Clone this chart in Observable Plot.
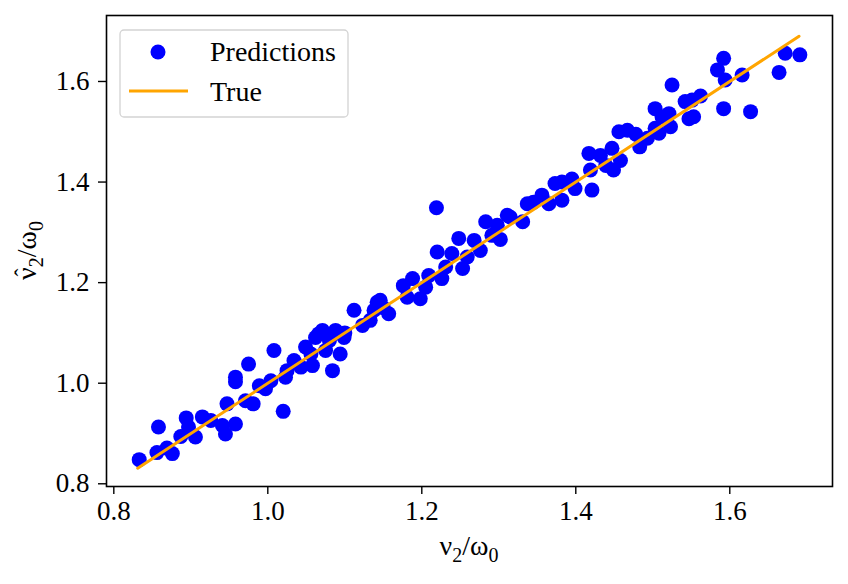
<!DOCTYPE html>
<html>
<head>
<meta charset="utf-8">
<script src="https://cdn.jsdelivr.net/npm/d3@7"></script>
<script src="https://cdn.jsdelivr.net/npm/@observablehq/plot@0.6"></script>
<style>
  html, body { margin: 0; padding: 0; background: white; overflow: hidden; }
  #chart svg text, #chart svg tspan { font-family: "Liberation Serif", "Times New Roman", serif !important; }
</style>
</head>
<body>
<div id="chart"></div>
<script>
// Predictions: true value (x) and predicted value (y)
const predX = [
  0.833, 0.858, 0.856, 0.869, 0.876, 0.887, 0.894, 0.897, 0.906, 0.915,
  0.926, 0.941, 0.945, 0.947, 0.958, 0.958, 0.958, 0.971, 0.975,
  1.008, 1.020, 0.981, 0.989, 0.997, 1.004, 1.023, 1.025, 1.034, 1.043,
  1.049, 1.058, 1.056, 1.062, 1.071, 1.075, 1.084, 1.088, 1.094, 1.099,
  1.112, 1.123, 1.138, 1.142, 1.066, 1.080, 1.100,
  1.219, 1.133, 1.146, 1.157, 1.150, 1.176, 1.181, 1.188, 1.198, 1.205,
  1.209, 1.220, 1.226, 1.231, 1.239, 1.248, 1.253, 1.259, 1.268, 1.276,
  1.283, 1.291, 1.298, 1.302, 1.311,
  1.315, 1.331, 1.337, 1.345, 1.356, 1.365, 1.373, 1.382, 1.382, 1.395,
  1.399, 1.417, 1.419, 1.421, 1.432, 1.439, 1.447, 1.449, 1.458, 1.456,
  1.467, 1.478, 1.483,
  1.493, 1.503, 1.503, 1.508, 1.512, 1.521, 1.523, 1.525, 1.542, 1.547,
  1.553, 1.551, 1.562, 1.584, 1.592, 1.594, 1.592, 1.616, 1.627, 1.664,
  1.672, 1.691
];
const predY = [
  0.848, 0.913, 0.862, 0.871, 0.860, 0.894, 0.931, 0.913, 0.893, 0.933,
  0.926, 0.916, 0.899, 0.959, 0.919, 1.012, 1.003, 0.965, 1.038,
  1.065, 0.944, 0.959, 0.995, 0.989, 1.005, 1.012, 1.025, 1.045, 1.032,
  1.072, 1.035, 1.058, 1.091, 1.105, 1.065, 1.025, 1.105, 1.058, 1.091,
  1.145, 1.115, 1.145, 1.161, 1.098, 1.085, 1.100,
  1.349, 1.125, 1.165, 1.138, 1.150, 1.194, 1.171, 1.208, 1.168, 1.191,
  1.214, 1.261, 1.208, 1.231, 1.258, 1.288, 1.228, 1.251, 1.284, 1.264,
  1.321, 1.294, 1.314, 1.286, 1.334,
  1.330, 1.321, 1.357, 1.360, 1.374, 1.357, 1.397, 1.400, 1.364, 1.406,
  1.387, 1.457, 1.424, 1.384, 1.453, 1.433, 1.467, 1.424, 1.443, 1.500,
  1.503, 1.495, 1.470,
  1.487, 1.546, 1.507, 1.497, 1.530, 1.536, 1.510, 1.593, 1.560, 1.526,
  1.530, 1.563, 1.571, 1.623, 1.646, 1.603, 1.546, 1.613, 1.540, 1.618,
  1.656, 1.653
];
// "True" reference line y = x
const trueX = [0.831, 1.69];
const trueY = [0.831, 1.69];
const tickValues = [0.8, 1.0, 1.2, 1.4, 1.6];
const legendLabels = ["Predictions", "True"];

const points = predX.map((x, i) => ({x, y: predY[i]}));
const lineData = trueX.map((x, i) => ({x, y: trueY[i]}));

const W = 848, H = 584;
const mL = 106, mR = 16, mT = 15, mB = 98;
const font = "Liberation Serif, Times New Roman, serif";
const FS = 27;

const chart = Plot.plot({
  width: W, height: H,
  marginLeft: mL, marginRight: mR, marginTop: mT, marginBottom: mB,
  style: {fontFamily: font, fontSize: FS + "px", background: "white", color: "black", overflow: "visible"},
  x: {domain: [0.7905, 1.7334], label: null},
  y: {domain: [0.7946, 1.7312], label: null},
  marks: [
    Plot.dot(points, {x: "x", y: "y", r: 7.5, fill: "#0000ff", stroke: "none"}),
    Plot.line(lineData, {x: "x", y: "y", stroke: "#ffa500", strokeWidth: 3}),
    Plot.axisX({ticks: tickValues, tickFormat: d => d.toFixed(1), tickSize: 8, tickPadding: 6, strokeWidth: 1.4, fontSize: FS, label: null}),
    Plot.axisY({ticks: tickValues, tickFormat: d => d.toFixed(1), tickSize: 8, tickPadding: 9, strokeWidth: 1.4, fontSize: FS, label: null}),
    Plot.frame({stroke: "black", strokeWidth: 1.6})
  ]
});

document.getElementById("chart").appendChild(chart);

const svg = d3.select(chart);

function styled(sel, size) {
  return sel.style("font-size", size + "px").attr("fill", "black");
}

// X axis title: ν2/ω0
const xt = styled(svg.append("text"), 28)
  .attr("x", (mL + W - mR) / 2).attr("y", 555)
  .attr("text-anchor", "middle");
xt.append("tspan").text("ν");
xt.append("tspan").attr("dy", 7).style("font-size", "20px").text("2");
xt.append("tspan").attr("dy", -7).text("/ω");
xt.append("tspan").attr("dy", 7).style("font-size", "20px").text("0");

// Y axis title: ν̂2/ω0 (rotated)
const yg = svg.append("g").attr("transform", `translate(36, ${(mT + H - mB) / 2}) rotate(-90)`);
const yt = styled(yg.append("text"), 28).attr("text-anchor", "middle");
yt.append("tspan").text("ν");
yt.append("tspan").attr("dy", 7).style("font-size", "20px").text("2");
yt.append("tspan").attr("dy", -7).text("/ω");
yt.append("tspan").attr("dy", 7).style("font-size", "20px").text("0");
try {
  const n = yt.node();
  const s = n.getStartPositionOfChar(0), e = n.getEndPositionOfChar(0);
  styled(yg.append("text"), 24).attr("text-anchor", "middle")
    .attr("x", (s.x + e.x) / 2 + 1).attr("y", s.y - 5).text("ˆ");
} catch (err) {}

// Legend
const lg = svg.append("g");
lg.append("rect")
  .attr("x", 120).attr("y", 30).attr("width", 228).attr("height", 87)
  .attr("rx", 4).attr("fill", "white").attr("fill-opacity", 0.8)
  .attr("stroke", "#d3d3d3").attr("stroke-width", 1.3);
lg.append("circle").attr("cx", 158).attr("cy", 52).attr("r", 7.5).attr("fill", "#0000ff");
lg.append("line").attr("x1", 129).attr("x2", 188).attr("y1", 91).attr("y2", 91)
  .attr("stroke", "#ffa500").attr("stroke-width", 3);
styled(lg.append("text"), 28).attr("text-anchor", "start")
  .attr("x", 210).attr("y", 61).text(legendLabels[0]);
styled(lg.append("text"), 28).attr("text-anchor", "start")
  .attr("x", 210).attr("y", 101).text(legendLabels[1]);
</script>
</body>
</html>
